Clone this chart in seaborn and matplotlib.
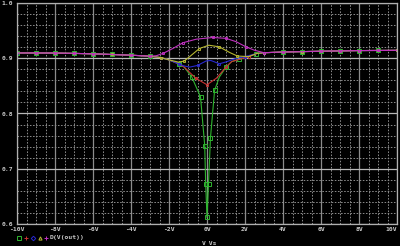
import numpy as np
import pandas as pd
import matplotlib
matplotlib.use("Agg")
import matplotlib.pyplot as plt
from matplotlib.lines import Line2D
import seaborn as sns

# ---- data ----
base_left_x = [-10, -9, -8, -7, -6, -5, -4, -3]
base_left_y = [0.9096, 0.9096, 0.9094, 0.9088, 0.9080, 0.9068, 0.9055, 0.9038]
base_right_x = [3, 4, 5, 6, 7, 8, 9, 10]
base_right_y = [0.9100, 0.9113, 0.9120, 0.9127, 0.9133, 0.9139, 0.9141, 0.9143]

green_cx = [-2.4, -2.0, -1.5, -1.2, -0.8, -0.34, -0.12, -0.07, 0.0, 0.08, 0.18, 0.4, 0.65, 1.0, 1.3, 1.7, 2.2, 2.6]
green_cy = [0.901, 0.897, 0.890, 0.884, 0.866, 0.830, 0.742, 0.673, 0.612, 0.673, 0.755, 0.842, 0.866, 0.884, 0.894, 0.898, 0.903, 0.9085]

red_cx = [-2.4, -2.0, -1.5, -1.2, -0.6, 0.0, 0.5, 1.0, 1.3, 1.7, 2.2, 2.6]
red_cy = [0.901, 0.897, 0.890, 0.884, 0.864, 0.852, 0.864, 0.884, 0.894, 0.898, 0.903, 0.9085]

blue_cx = [-2.4, -2.0, -1.5, -1.2, -0.9, -0.5, -0.05, 0.2, 0.65, 1.0, 1.5, 2.0, 2.6]
blue_cy = [0.901, 0.897, 0.890, 0.886, 0.884, 0.887, 0.895, 0.896, 0.890, 0.8933, 0.8994, 0.903, 0.9085]

yellow_cx = [-2.4, -2.0, -1.5, -1.2, -0.93, -0.4, 0.1, 0.65, 1.2, 1.6, 2.2, 2.6]
yellow_cy = [0.901, 0.897, 0.893, 0.895, 0.9024, 0.9176, 0.9236, 0.9206, 0.9103, 0.904, 0.903, 0.9085]

magenta_cx = [-2.67, -2.3, -1.8, -1.27, -0.57, 0.3, 1.0, 1.53, 2.06, 2.5]
magenta_cy = [0.9045, 0.909, 0.9176, 0.928, 0.9345, 0.9376, 0.936, 0.930, 0.9205, 0.9145]

x_ticks = [-10, -8, -6, -4, -2, 0, 2, 4, 6, 8, 10]
x_tick_labels = ["-10V", "-8V", "-6V", "-4V", "-2V", "0V", "2V", "4V", "6V", "8V", "10V"]
y_ticks = [0.6, 0.7, 0.8, 0.9, 1.0]
y_tick_labels = ["0.6", "0.7", "0.8", "0.9", "1.0"]
x_label = "V_Vs"
legend_label = "D(V(out))"

# ---- style ----
sns.set_style("dark", {"axes.facecolor": "black", "figure.facecolor": "black"})
plt.rcParams["font.family"] = ["DejaVu Sans Mono", "DejaVu Sans"]

fig = plt.figure(figsize=(4.0, 2.46), dpi=100)
ax = fig.add_axes([17 / 400, 1 - 224 / 246, 380 / 400, 221 / 246])
ax.set_facecolor("black")

ax.set_xlim(-10, 10)
ax.set_ylim(0.6, 1.0)

# grid
for v in np.arange(-10, 10.01, 0.5):
    if abs(v / 2 - round(v / 2)) < 1e-6:
        ax.axvline(v, color="#8c8c8c", lw=0.9, zorder=0)
    else:
        ax.axvline(v, color="#8c8c8c", lw=0.7, ls=(0, (1.6, 1.6)), zorder=0)
for v in np.arange(0.6, 1.0001, 0.02):
    k = round(v * 10, 6)
    if abs(k - round(k)) < 1e-6:
        ax.axhline(v, color="#b8b8b8", lw=0.9, zorder=0)
    else:
        ax.axhline(v, color="#8c8c8c", lw=0.7, ls=(0, (1.6, 1.6)), zorder=0)

for sp in ax.spines.values():
    sp.set_color("#b0b0b0")
    sp.set_linewidth(0.9)
    sp.set_visible(True)

ax.set_xticks(x_ticks)
ax.set_xticklabels(x_tick_labels)
ax.set_yticks(y_ticks)
ax.set_yticklabels(y_tick_labels)
ax.tick_params(axis="both", length=0, colors="#c8c8c8", labelsize=4.6, pad=2.5)
for t in ax.get_xticklabels() + ax.get_yticklabels():
    t.set_fontweight("bold")
ax.get_xticklabels()[-1].set_horizontalalignment("right")

series = [
    ("#2fb52f", green_cx, green_cy, "s", (0.00, 0.045), 2.2),
    ("#c83232", red_cx, red_cy, "s", (0.01, 0.05), 1.4),
    ("#2828d0", blue_cx, blue_cy, "s", (0.02, 0.05), 1.4),
    ("#b8b832", yellow_cx, yellow_cy, "s", (0.03, 0.05), 1.4),
    ("#c032c0", magenta_cx, magenta_cy, "s", (0.04, 0.05), 1.4),
]

for color, cx, cy, mk, me, ms in series:
    xs = base_left_x + cx + base_right_x
    ys = base_left_y + cy + base_right_y
    df = pd.DataFrame({"x": xs, "y": ys})
    sns.lineplot(data=df, x="x", y="y", ax=ax, color=color, lw=0.8,
                 estimator=None, sort=False, marker=mk, markersize=ms,
                 markevery=me, markerfacecolor="none", markeredgecolor=color,
                 markeredgewidth=0.7)

ax.set_xlabel("")
ax.set_ylabel("")

fig.text(210 / 400, 1 - 243 / 246, x_label, color="#c8c8c8", fontsize=4.6,
         fontweight="bold", ha="center", va="center")

# legend line
leg_y = 1 - 237.5 / 246
leg_marks = [("#2fb52f", "s", 19), ("#c83232", "+", 26), ("#2828d0", "D", 33),
             ("#b8b832", "^", 39.5), ("#c032c0", "+", 46)]
for c, m, xp in leg_marks:
    fig.add_artist(Line2D([xp / 400], [leg_y], marker=m, color=c, markersize=2.3,
                          markerfacecolor="none", markeredgewidth=0.7,
                          transform=fig.transFigure, ls="none"))
fig.text(50 / 400, leg_y, legend_label, color="#c8c8c8", fontsize=4.6,
         fontweight="bold", ha="left", va="center")

fig.savefig("out.png", dpi=100, facecolor="black")
